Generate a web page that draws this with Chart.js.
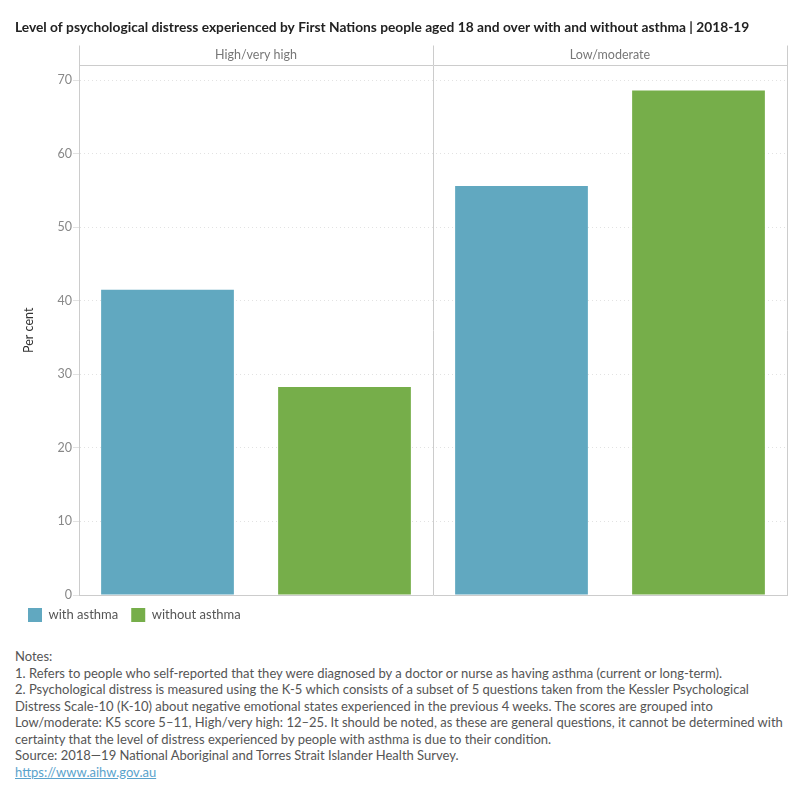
<!DOCTYPE html>
<html>
<head>
<meta charset="utf-8">
<script src="https://cdn.jsdelivr.net/npm/chart.js@4/dist/chart.umd.min.js"></script>
<style>
  body { margin: 0; background: #fff; font-family: Lato, sans-serif; }
  #wrap { position: relative; width: 800px; height: 800px; }
  #notes {
    position: absolute; left: 15px; top: 648px; width: 785px;
    font-size: 13px; line-height: 16.5px; color: #555; white-space: nowrap;
  }
  #notes a { color: #5aa3cc; }
</style>
</head>
<body>
<div id="wrap">
  <canvas id="chart" width="800" height="632"></canvas>
  <div id="notes">
    Notes:<br>
    1. Refers to people who self-reported that they were diagnosed by a doctor or nurse as having asthma (current or long-term).<br>
    2. Psychological distress is measured using the K-5 which consists of a subset of 5 questions taken from the Kessler Psychological<br>
    Distress Scale-10 (K-10) about negative emotional states experienced in the previous 4 weeks. The scores are grouped into<br>
    Low/moderate: K5 score 5–11, High/very high: 12–25. It should be noted, as these are general questions, it cannot be determined with<br>
    certainty that the level of distress experienced by people with asthma is due to their condition.<br>
    Source: 2018—19 National Aboriginal and Torres Strait Islander Health Survey.<br>
    <a href="#">https://www.aihw.gov.au</a>
  </div>
</div>
<script>
// distress groups (panel headers) and the bars inside them
var groups = ['High/very high', 'Low/moderate'];
var slots = ['High - with', 'High - without', 'Low - with', 'Low - without'];

// per cent
var withAsthma = [41.5, null, 55.6, null];
var withoutAsthma = [null, 28.3, null, 68.6];

var yTicks = [0, 10, 20, 30, 40, 50, 60, 70];

var teal = '#61a8c0';
var green = '#76ae4a';

var ctx = document.getElementById('chart').getContext('2d');
var chart = new Chart(ctx, {
  type: 'bar',
  data: {
    labels: slots,
    datasets: [
      { label: 'with asthma', data: withAsthma, backgroundColor: teal },
      { label: 'without asthma', data: withoutAsthma, backgroundColor: green }
    ]
  },
  options: {
    responsive: false,
    animation: false,
    layout: { padding: { left: 15, right: 13, top: 0, bottom: 0 } },
    datasets: {
      // one bar per slot, so the two groups can keep a gap between their bars
      bar: { grouped: false, categoryPercentage: 1, barPercentage: 0.75 }
    },
    plugins: {
      title: {
        display: true,
        text: 'Level of psychological distress experienced by First Nations people aged 18 and over with and without asthma | 2018-19',
        align: 'start',
        color: '#222',
        font: { family: 'Lato', size: 13.75, weight: 'bold' },
        padding: { top: 19, bottom: 10 }
      },
      legend: {
        position: 'bottom',
        align: 'start',
        labels: {
          boxWidth: 14, boxHeight: 14, padding: 13,
          color: '#555',
          font: { family: 'Lato', size: 13 }
        }
      },
      tooltip: { enabled: false }
    },
    scales: {
      x: {
        position: 'bottom',
        ticks: { display: false },
        grid: { display: false, drawTicks: false },
        border: { display: true, color: '#ccc' }
      },
      // panel headers: labels sit inside the tick band
      x2: {
        type: 'category',
        labels: groups,
        position: 'top',
        offset: true,
        grid: { offset: true, color: '#ccc', tickLength: 20, drawTicks: true },
        border: { display: true, color: '#ccc' },
        ticks: { color: '#777', padding: -17, font: { family: 'Lato', size: 12.5 } },
        afterFit: function (axis) { axis.height = 20; }
      },
      y: {
        min: 0,
        max: 72,
        afterBuildTicks: function (axis) {
          axis.ticks = yTicks.map(function (v) { return { value: v }; });
        },
        afterFit: function (axis) { axis.width = 64; },
        ticks: { color: '#888', padding: 1, font: { family: 'Lato', size: 12.5 } },
        grid: { color: '#e2e2e2', tickLength: 6, drawTicks: true },
        border: { display: true, color: '#ccc', dash: [1, 3] },
        title: {
          display: true,
          text: 'Per cent',
          color: '#333',
          font: { family: 'Lato', size: 12.5 },
          padding: { top: 6, bottom: 0 }
        }
      }
    }
  }
});
</script>
</body>
</html>
